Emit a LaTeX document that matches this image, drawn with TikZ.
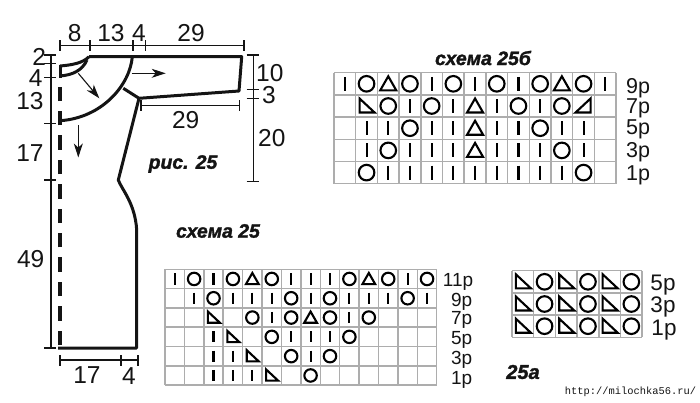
\documentclass[tikz,border=0pt]{standalone}
\usepackage{fontspec}
\setmainfont{Liberation Sans}[BoldItalicFeatures={FakeBold=1.6}]
\newfontfamily\urlfont{Liberation Mono}
\usetikzlibrary{arrows.meta}
\definecolor{gridgray}{gray}{0.68}
\definecolor{ink}{gray}{0.08}
\tikzset{
  x=1pt,y=-1pt,
  outline/.style={line width=3pt,draw=ink,line join=round},
  fold/.style={line width=3.4pt,draw=ink,dash pattern=on 14.5pt off 9.9pt},
  dimline/.style={line width=1.4pt,draw=ink},
  thinarrow/.style={line width=1.1pt,draw=ink,-{Stealth[length=14pt,width=9pt,inset=4pt]}},
  dimtext/.style={inner sep=0pt,text=ink,font=\fontsize{24.5}{24.5}\selectfont},
  caption/.style={inner sep=0pt,text=ink,font=\fontsize{19.4}{19.4}\selectfont\bfseries\itshape},
  rowa/.style={inner sep=0pt,text=ink,font=\fontsize{19}{19}\selectfont},
  rowb/.style={inner sep=0pt,text=ink,font=\fontsize{21.5}{21.5}\selectfont},
  rowc/.style={inner sep=0pt,text=ink,font=\fontsize{22.5}{22.5}\selectfont},
  gridline/.style={line width=1.5pt,draw=gridgray},
  symb/.style={line width=2.1pt,draw=black,line join=miter},
  sN/.pic={},
  sI/.pic={\draw[symb] (0,-7) -- (0,7);},
  sO/.pic={\draw[symb] (0,0) circle[radius=7.8];},
  sT/.pic={\draw[symb] (0,-7.5) -- (8,6.5) -- (-8,6.5) -- cycle;},
  sL/.pic={\draw[symb] (-7,-7.5) -- (8,6.5) -- (-7,6.5) -- cycle;},
  sR/.pic={\draw[symb] (7,-7.5) -- (7,6.5) -- (-8,6.5) -- cycle;},
}
\newcommand{\gridlines}[6]{% x0 y0 dx dy ncols nrows
  \foreach \k in {0,...,#5} \draw[gridline] ({#1+\k*#3},#2) -- ({#1+\k*#3},{#2+#6*#4});
  \foreach \k in {0,...,#6} \draw[gridline] (#1,{#2+\k*#4}) -- ({#1+#5*#3},{#2+\k*#4});
}
\newcommand{\cellrow}[7]{% x0 y0 dx dy row scale list
  \foreach \c [count=\i] in {#7}
    \pic[scale=#6] at ({#1+(\i-0.5)*#3},{#2+(#5-0.5)*#4}) {s\c};
}
\begin{document}
\begin{tikzpicture}
\useasboundingbox (0,0) rectangle (700,402);
% --- garment outline
\draw[outline] (89,56.7) -- (241.7,56.7) -- (239,91) -- (139,98.3) -- (118.3,180)
  .. controls (122,190) and (135,203) .. (136.7,230) -- (136.7,348) -- (58,348);
\draw[fold] (60,345) -- (60,86.5);
\draw[outline] (60,65) -- (60,78);
\draw[outline] (60,113) -- (60,125);
\draw[outline] (60,66) .. controls (72,65) and (83,63) .. (89,56.7);
\draw[outline] (60,76) .. controls (72,75) and (82,71) .. (87,60);
\draw[outline] (132.3,56.7) .. controls (130,85) and (102,118) .. (60,120.7);
\draw[outline] (123.3,88.3) -- (139,98.3);
% --- grain arrows
\draw[thinarrow] (78.3,73.3) -- (99.3,98.3);
\draw[thinarrow] (131.7,73.3) -- (165.7,73.3);
\draw[thinarrow] (78.3,125) -- (78.3,157.5);
% --- top dimension
\draw[dimline] (60,45.7) -- (244,45.7);
\foreach \x in {60,90,133,145.7,244} \draw[dimline] (\x,40) -- (\x,51);
\node[dimtext] (t8) at (74.7,33) {8};
\node[dimtext] (t13) at (111,33) {13};
\node[dimtext] (t4) at (139,33) {4};
\node[dimtext] (t29) at (191,33) {29};
% --- left dimension
\draw[dimline] (50.8,55) -- (50.8,348);
\foreach \y in {55,63.3,77.3,123.3,180,348} \draw[dimline] (44,\y) -- (56,\y);
\node[dimtext] (l2) at (39.3,56.7) {2};
\node[dimtext] (l4) at (35.7,78) {4};
\node[dimtext] (l13) at (30,100.7) {13};
\node[dimtext] (l17) at (30,152.7) {17};
\node[dimtext] (l49) at (30.7,259) {49};
% --- right dimension
\draw[dimline] (253.3,55) -- (253.3,181.7);
\foreach \y in {55,89.3,98.3,181.7} \draw[dimline] (246.7,\y) -- (258.5,\y);
\node[dimtext,anchor=west] (r10) at (256,72.7) {10};
\node[dimtext,anchor=west] (r3) at (262,95) {3};
\node[dimtext,anchor=west] (r20) at (258,138) {20};
% --- sleeve dimension
\draw[dimline] (141,105.7) -- (239.3,105.7);
\foreach \x in {141,239.3} \draw[dimline] (\x,100) -- (\x,111);
\node[dimtext] (s29) at (185.7,120) {29};
% --- bottom dimension
\draw[dimline] (60,360) -- (138,360);
\foreach \x in {60,121,138} \draw[dimline] (\x,355) -- (\x,366);
\node[dimtext] (b17) at (87,375) {17};
\node[dimtext] (b4) at (129,376) {4};
% --- captions
\node[caption] (fig) at (183,164) {рис. 25};
\node[caption] (sch) at (218,231) {схема 25};
\node[caption] (schb) at (483,58) {схема 25б};
\node[caption,font=\fontsize{20}{20}\selectfont\bfseries\itshape] (scha) at (523,372) {25а};
\node[inner sep=0pt,text=ink,font=\urlfont\fontsize{10.4}{10.4}\selectfont] (url) at (630.5,391.7) {http://milochka56.ru/};
% --- chart 25b
\gridlines{334}{72.7}{21.7}{22.2}{13}{5}
\cellrow{334}{72.7}{21.7}{22.2}{1}{1}{I,O,T,O,I,O,I,O,I,O,T,O,I}
\cellrow{334}{72.7}{21.7}{22.2}{2}{1}{N,L,O,I,O,I,T,I,O,I,O,R,N}
\cellrow{334}{72.7}{21.7}{22.2}{3}{1}{N,I,I,O,I,I,T,I,I,O,I,I,N}
\cellrow{334}{72.7}{21.7}{22.2}{4}{1}{N,I,O,I,I,I,T,I,I,I,O,I,N}
\cellrow{334}{72.7}{21.7}{22.2}{5}{1}{N,O,I,I,I,I,I,I,I,I,I,O,N}
\node[rowb] (b9) at (638,88) {9р};
\node[rowb] (b7) at (638,108) {7р};
\node[rowb] (b5) at (638,129) {5р};
\node[rowb] (b3) at (638,152) {3р};
\node[rowb] (b1) at (638,175) {1р};
% --- chart 25
\gridlines{165}{269.3}{19.41}{19.3}{14}{6}
\cellrow{165}{269.3}{19.41}{19.3}{1}{0.8}{I,O,I,O,T,O,I,I,I,O,T,O,I,O}
\cellrow{165}{269.3}{19.41}{19.3}{2}{0.8}{N,I,O,I,I,I,O,I,O,I,I,I,O,I}
\cellrow{165}{269.3}{19.41}{19.3}{3}{0.8}{N,N,L,N,O,I,O,T,O,I,O,N,N,N}
\cellrow{165}{269.3}{19.41}{19.3}{4}{0.8}{N,N,I,L,N,O,I,I,I,O,N,N,N,N}
\cellrow{165}{269.3}{19.41}{19.3}{5}{0.8}{N,N,I,I,L,N,O,I,O,N,N,N,N,N}
\cellrow{165}{269.3}{19.41}{19.3}{6}{0.8}{N,N,I,I,I,L,N,O,N,N,N,N,N,N}
\node[rowa] (a11) at (458,282) {11р};
\node[rowa] (a9) at (461.7,301.7) {9р};
\node[rowa] (a7) at (461.7,320) {7р};
\node[rowa] (a5) at (461.7,340) {5р};
\node[rowa] (a3) at (461.7,360) {3р};
\node[rowa] (a1) at (461.7,380) {1р};
% --- chart 25a
\gridlines{512}{270.7}{21.7}{22.2}{6}{3}
\cellrow{512}{270.7}{21.7}{22.2}{1}{1}{L,O,L,O,L,O}
\cellrow{512}{270.7}{21.7}{22.2}{2}{1}{L,O,L,O,L,O}
\cellrow{512}{270.7}{21.7}{22.2}{3}{1}{L,O,L,O,L,O}
\node[rowc] (c5) at (663,285) {5р};
\node[rowc] (c3) at (663,307) {3р};
\node[rowc] (c1) at (664,330) {1р};
\end{tikzpicture}
\end{document}
